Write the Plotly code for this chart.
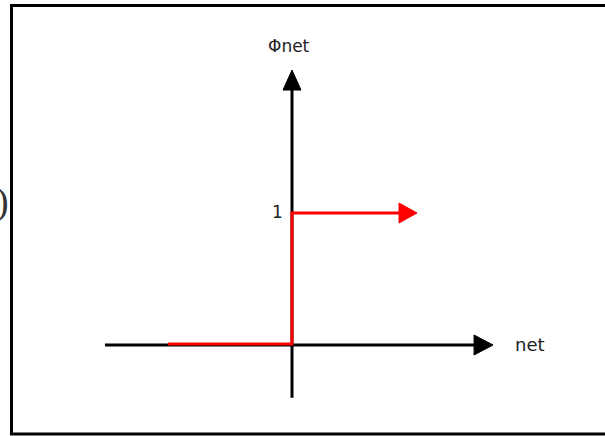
import plotly.graph_objects as go

# --- data ---
step_x = [-0.94, 0.0, 0.0, 0.82]
step_y = [0.0, 0.0, 1.0, 1.0]
red_arrow_tip = (0.947, 1.0)
x_axis_span = [-1.417, 1.40]
x_axis_tip = 1.523
y_axis_span = [-0.40, 1.97]
y_axis_tip = 2.083
ytick_vals = [1]
ytick_text = ["1"]
x_label = "net"
y_label = "Φnet"

W, H = 605, 436
S = 132.0  # px per unit
ox, oy = 292, 345
xr = [-ox / S, (W - ox) / S]
yr = [-(H - oy) / S, oy / S]

def px(d):
    return d / S

fig = go.Figure()

# axes lines
fig.add_trace(go.Scatter(x=[x_axis_span[0], x_axis_span[1]], y=[0, 0], mode="lines",
                         line=dict(color="black", width=3), hoverinfo="skip"))
fig.add_trace(go.Scatter(x=[0, 0], y=[y_axis_span[0], y_axis_span[1]], mode="lines",
                         line=dict(color="black", width=3), hoverinfo="skip"))

def tri_right(tx, ty, L=19, Wd=20, color="black"):
    xs = [tx, tx - px(L), tx - px(L), tx]
    ys = [ty, ty + px(Wd / 2), ty - px(Wd / 2), ty]
    return go.Scatter(x=xs, y=ys, mode="lines", fill="toself", fillcolor=color,
                      line=dict(color=color, width=1), hoverinfo="skip")

def tri_up(tx, ty, L=20, Wd=18, color="black"):
    xs = [tx, tx - px(Wd / 2), tx + px(Wd / 2), tx]
    ys = [ty, ty - px(L), ty - px(L), ty]
    return go.Scatter(x=xs, y=ys, mode="lines", fill="toself", fillcolor=color,
                      line=dict(color=color, width=1), hoverinfo="skip")

fig.add_trace(tri_right(x_axis_tip, 0))
fig.add_trace(tri_up(0, y_axis_tip))

# red step function
RED = "#ff0000"
fig.add_trace(go.Scatter(x=step_x, y=[v + px(1) if v == 0 else v for v in step_y], mode="lines",
                         line=dict(color=RED, width=3), hoverinfo="skip"))
fig.add_trace(tri_right(red_arrow_tip[0], red_arrow_tip[1], L=18, Wd=20, color=RED))

annotations = [
    dict(x=0, y=y_axis_tip + px(24), xref="x", yref="y", text=y_label, showarrow=False,
         font=dict(family="DejaVu Sans", size=17, color="#222"), xshift=-3),
    dict(x=x_axis_tip + px(37), y=0, xref="x", yref="y", text=x_label, showarrow=False,
         font=dict(family="DejaVu Sans", size=18, color="#222"), yshift=1),
    dict(x=0, y=1, xref="x", yref="y", text=ytick_text[0], showarrow=False,
         font=dict(family="DejaVu Sans", size=17, color="#222"), xshift=-15, yshift=1),
    dict(x=11 / W, y=1 - 201 / H, xref="paper", yref="paper", text=")", showarrow=False,
         xanchor="right", font=dict(family="Liberation Serif", size=38, color="#333")),
]

fig.update_layout(
    width=W, height=H,
    margin=dict(l=0, r=0, t=0, b=0),
    paper_bgcolor="white", plot_bgcolor="white",
    showlegend=False,
    xaxis=dict(range=xr, visible=False, fixedrange=True),
    yaxis=dict(range=yr, visible=False, fixedrange=True),
    annotations=annotations,
    shapes=[dict(type="rect", xref="paper", yref="paper",
                 x0=11.5 / W, x1=1.02, y0=1 - 434 / H, y1=1 - 5.5 / H,
                 line=dict(color="black", width=3))],
)

fig.write_html("out.html", config={"displayModeBar": False},
               post_script="document.body.style.margin='0';")
